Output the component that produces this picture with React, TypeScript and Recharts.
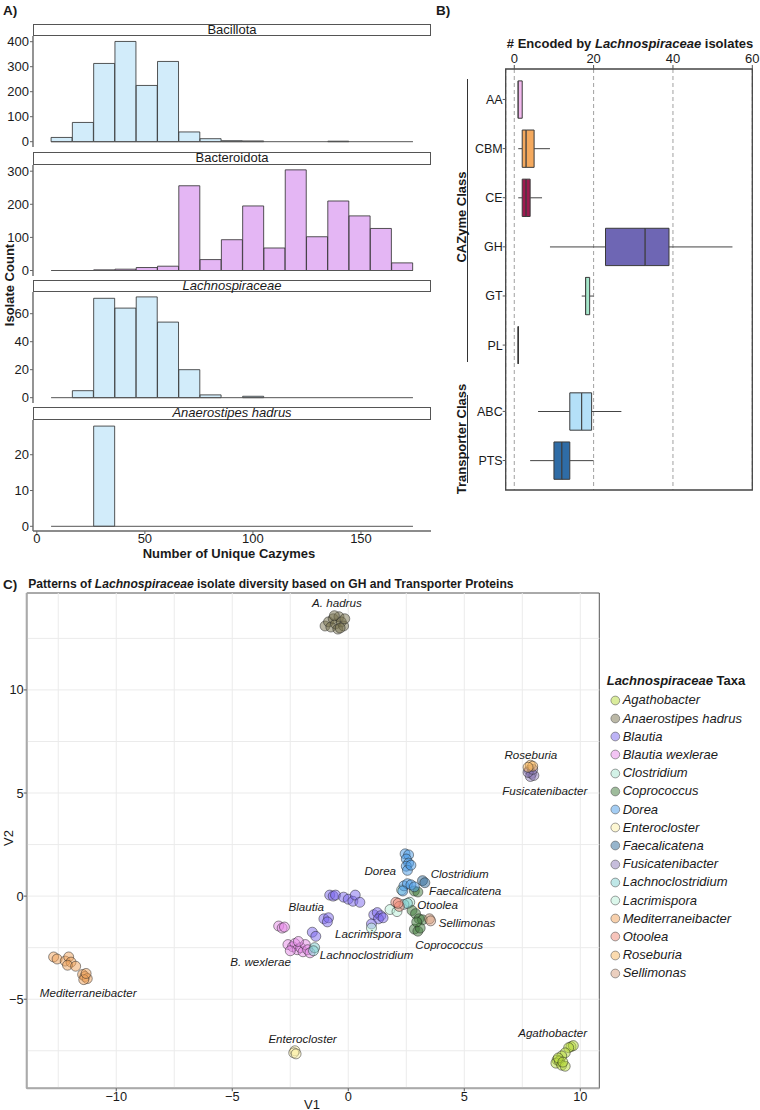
import React from 'react';
import {
  BarChart,
  Bar,
  XAxis,
  YAxis,
  ReferenceLine,
  ReferenceArea,
  ScatterChart,
  Scatter,
  CartesianGrid,
} from 'recharts';

const FONT = '"Liberation Sans", Arial, Helvetica, sans-serif';
const INK = '#1a1a1a';

// ---------------- Panel A: histograms ----------------
const binMids = [11.525, 21.375, 31.225, 41.075, 50.925, 60.775, 70.625, 80.475, 90.325, 100.175, 110.025, 119.875, 129.725, 139.575, 149.425, 159.275, 169.125];
const binRange = [6.6, 174.05];
const bacillotaCounts = [17, 77, 313, 401, 225, 321, 39, 12, 4, 3, 0, 0, 0, 2, 0, 0, 0];
const bacteroidotaCounts = [0, 0, 2, 4, 9, 13, 256, 33, 93, 195, 68, 304, 102, 210, 165, 127, 23];
const lachnoCounts = [0, 5, 71, 64, 72, 54, 20, 2, 0, 1, 0, 0, 0, 0, 0, 0, 0];
const hadrusCounts = [0, 0, 28, 0, 0, 0, 0, 0, 0, 0, 0, 0, 0, 0, 0, 0, 0];
const facetNames = ['Bacillota', 'Bacteroidota', 'Lachnospiraceae', 'Anaerostipes hadrus'];
const xTicksA = [0, 50, 100, 150];
const yTicksBacillota = [0, 100, 200, 300, 400];
const yTicksBacteroidota = [0, 100, 200, 300];
const yTicksLachno = [0, 20, 40, 60];
const yTicksHadrus = [0, 10, 20];

// ---------------- Panel B: box plots ----------------
const cazyClasses = ['AA', 'CBM', 'CE', 'GH', 'GT', 'PL', 'ABC', 'PTS'];
const classGroups = ['CAZyme', 'CAZyme', 'CAZyme', 'CAZyme', 'CAZyme', 'CAZyme', 'Transporter', 'Transporter'];
const whiskerLow = [1, 1, 1, 9, 17, 1, 6, 4];
const quart1 = [1, 2, 2, 23, 18, 1, 14, 10];
const medians = [1, 3, 3, 33, 18, 1, 17, 12];
const quart3 = [2, 5, 4, 39, 19, 1, 19.5, 14];
const whiskerHigh = [2, 9, 7, 55, 20, 1, 27, 20];
const boxColors = ['#F3B9EF', '#F4A95E', '#9E1A50', '#6E66B4', '#A6E8CC', '#FFFFFF', '#B4E0F8', '#2F6CA6'];
const xTicksB = [0, 20, 40, 60];

// ---------------- Panel C: ordination scatter ----------------
const taxaNames = ['Agathobacter', 'Anaerostipes hadrus', 'Blautia', 'Blautia wexlerae', 'Clostridium', 'Coprococcus', 'Dorea', 'Enterocloster', 'Faecalicatena', 'Fusicatenibacter', 'Lachnoclostridium', 'Lacrimispora', 'Mediterraneibacter', 'Otoolea', 'Roseburia', 'Sellimonas'];
const taxaColors = ['#B5D93A', '#77724D', '#7B68EE', '#E58AE8', '#A8E6CF', '#3F7A3A', '#4A9BE8', '#FCEFA8', '#2F6B99', '#8E7CB8', '#80CFCF', '#B8F0D8', '#F0A25A', '#F08A78', '#F7B860', '#D8A080'];

const agathobacterPts = [[9.6, -7.3], [9.7, -7.25], [9.5, -7.35], [9.35, -7.6], [9.2, -7.75], [9.0, -7.95], [8.95, -8.1], [9.1, -8.0], [9.2, -8.2], [9.35, -8.25], [9.05, -7.85], [9.25, -8.05]];
const hadrusPts = [[-1.0, 13.1], [-0.85, 13.3], [-0.75, 13.05], [-0.65, 13.45], [-0.55, 13.2], [-0.45, 12.95], [-0.4, 13.55], [-0.3, 13.3], [-0.2, 13.1], [-0.15, 13.45], [-0.6, 13.6], [-0.35, 13.0]];
const blautiaPts = [[-0.8, 0.05], [-0.65, 0.0], [-0.55, 0.05], [-0.2, -0.05], [0.0, -0.15], [0.2, -0.25], [0.3, 0.05], [0.5, -0.3], [-1.05, -1.1], [-0.85, -1.05], [-0.9, -1.25], [1.1, -0.9], [1.25, -0.8], [1.4, -0.95], [1.3, -1.1], [1.5, -1.05], [1.0, -1.35], [-1.55, -1.75], [-1.4, -1.95]];
const wexleraePts = [[-3.0, -1.45], [-2.85, -1.55], [-2.75, -1.5], [-2.6, -2.35], [-2.4, -2.45], [-2.3, -2.3], [-2.2, -2.6], [-2.05, -2.5], [-1.95, -2.7], [-1.85, -2.35], [-1.75, -2.6], [-2.5, -2.65], [-2.15, -2.2], [-1.65, -2.75]];
const clostridiumPts = [[2.3, 0.3], [2.65, -0.3]];
const coprococcusPts = [[2.85, 0.25], [3.0, 0.2], [2.75, -0.7], [2.9, -0.85], [3.05, -1.1], [3.2, -1.15], [2.85, -1.6], [3.0, -1.7], [3.1, -1.55], [2.95, -1.25]];
const doreaPts = [[2.45, 2.05], [2.6, 2.0], [2.5, 1.8], [2.6, 1.6], [2.5, 1.45], [2.55, 1.25], [2.7, 1.5], [2.4, 0.5], [2.55, 0.6], [2.7, 0.55], [2.85, 0.45], [2.35, 0.25]];
const enterclosterPts = [[-2.3, -7.5], [-2.35, -7.6], [-2.25, -7.65]];
const faecalicatenaPts = [[3.2, 0.75], [3.3, 0.65]];
const fusicatenibacterPts = [[7.8, 6.1], [7.9, 5.95], [7.85, 5.8], [8.0, 5.85], [7.75, 6.0], [7.95, 6.15]];
const lachnoclostridiumPts = [[-1.45, -2.5], [-1.5, -2.65], [2.4, -0.4], [2.55, -0.35]];
const lacrimisporaPts = [[1.8, -0.65], [1.0, -1.55], [2.1, -0.75]];
const mediterraneibacterPts = [[-12.7, -2.95], [-12.55, -3.05], [-12.2, -3.15], [-12.05, -2.95], [-11.95, -3.2], [-12.1, -3.35], [-11.75, -3.4], [-11.45, -3.8], [-11.35, -3.9], [-11.25, -4.0], [-11.4, -4.05], [-11.3, -3.75]];
const otooleaPts = [[2.05, -0.3], [2.2, -0.5], [2.15, -0.35]];
const roseburiaPts = [[7.85, 6.35], [7.95, 6.3], [7.75, 6.25]];
const sellimonasPts = [[3.5, -1.1], [3.55, -1.2]];
const taxaPoints = [agathobacterPts, hadrusPts, blautiaPts, wexleraePts, clostridiumPts, coprococcusPts, doreaPts, enterclosterPts, faecalicatenaPts, fusicatenibacterPts, lachnoclostridiumPts, lacrimisporaPts, mediterraneibacterPts, otooleaPts, roseburiaPts, sellimonasPts];

const labelTexts = ['A. hadrus', 'Roseburia', 'Fusicatenibacter', 'Agathobacter', 'Enterocloster', 'Mediterraneibacter', 'B. wexlerae', 'Blautia', 'Lacrimispora', 'Lachnoclostridium', 'Dorea', 'Clostridium', 'Faecalicatena', 'Otoolea', 'Sellimonas', 'Coprococcus'];
const labelX = [-0.49, 7.87, 8.47, 8.81, -1.97, -11.21, -3.78, -1.81, 0.86, 0.79, 1.38, 4.8, 5.04, 3.85, 5.12, 4.35];
const labelY = [14.24, 6.89, 5.14, -6.6, -6.92, -4.65, -3.19, -0.49, -1.81, -2.84, 1.25, 1.1, 0.28, -0.4, -1.29, -2.35];

const xTicksC = [-10, -5, 0, 5, 10];
const yTicksC = [-5, 0, 5, 10];
const gridXC = [-12.5, -10, -7.5, -5, -2.5, 0, 2.5, 5, 7.5, 10];
const gridYC = [-7.5, -5, -2.5, 0, 2.5, 5, 7.5, 10, 12.5];

const fmtMinus = (v: number) => (v < 0 ? '\u2212' + Math.abs(v) : String(v));

// ---------------- Panel A component ----------------
type FacetProps = {
  name: string;
  italic: boolean;
  counts: number[];
  color: string;
  stripTop: number;
  plotTop: number;
  plotBottom: number;
  yDomain: [number, number];
  yTicks: number[];
  showX: boolean;
};

const A_X_DOMAIN: [number, number] = [-1.77, 182.4];

function HistFacet(props: FacetProps) {
  const { name, italic, counts, color, stripTop, plotTop, plotBottom, yDomain, yTicks, showX } = props;
  const data = binMids.map((mid, i) => ({ mid, count: counts[i] }));
  const padTop = 8;
  const padBottom = showX ? 0 : 8;
  const xAxisH = showX ? 26 : 0;
  const h = plotBottom - plotTop + padTop + padBottom + xAxisH;
  return (
    <>
      <div style={{ position: 'absolute', left: 0, top: plotTop - padTop }}>
        <BarChart
          width={440}
          height={h}
          data={data}
          margin={{ top: padTop, right: 9, bottom: padBottom, left: 0 }}
          barCategoryGap={0}
          barGap={0}
        >
          <XAxis
            type="number"
            dataKey="mid"
            domain={A_X_DOMAIN}
            allowDataOverflow
            ticks={xTicksA}
            interval={0}
            hide={!showX}
            height={xAxisH}
            tickSize={3}
            tickMargin={0}
            axisLine={{ stroke: '#666', strokeWidth: 1.4 }}
            tickLine={{ stroke: '#666' }}
            tick={{ fontSize: 13, fill: INK, fontFamily: FONT }}
          />
          <YAxis
            type="number"
            domain={yDomain}
            allowDataOverflow
            ticks={yTicks}
            interval={0}
            width={33}
            tickSize={3}
            tickMargin={1}
            axisLine={{ stroke: '#666', strokeWidth: 1.4 }}
            tickLine={{ stroke: '#666' }}
            tick={{ fontSize: 13, fill: INK, fontFamily: FONT }}
          />
          <Bar dataKey="count" fill={color} stroke="#2b2b2b" strokeWidth={0.8} isAnimationActive={false} />
          <ReferenceLine
            segment={[
              { x: binRange[0], y: 0 },
              { x: binRange[1], y: 0 },
            ]}
            stroke="#555"
            strokeWidth={1}
          />
        </BarChart>
      </div>
      <div
        style={{
          position: 'absolute',
          left: 33,
          top: stripTop,
          width: 398,
          height: plotTop - stripTop,
          border: '1.2px solid #555',
          boxSizing: 'border-box',
          background: '#fff',
          fontFamily: FONT,
          fontStyle: italic ? 'italic' : 'normal',
          fontSize: 13,
          lineHeight: `${plotTop - stripTop - 2.4}px`,
          textAlign: 'center',
          color: INK,
          overflow: 'visible',
          whiteSpace: 'nowrap',
        }}
      >
        {name}
      </div>
    </>
  );
}

// ---------------- Panel B shapes ----------------
const hiddenShape = () => <g />;
const whiskerShape = (p: any) => {
  const { x, y, width, height } = p;
  if (!width) return <g />;
  return <line x1={x} x2={x + width} y1={y + height / 2} y2={y + height / 2} stroke="#444" strokeWidth={1} />;
};
const boxShape = (p: any) => {
  const { x, y, width, height } = p;
  const color = (p.payload && p.payload.color) || p.color;
  return (
    <path
      d={`M${x},${y}h${width}v${height}h${-width}Z`}
      fill={color}
      stroke="#3a3a3a"
      strokeWidth={1}
    />
  );
};

const B_X_DOMAIN: [number, number] = [-2.16, 60];
const B_Y_DOMAIN: [number, number] = [-0.62, 7.95];

function BoxPanel() {
  const rows = cazyClasses.map((name, i) => ({
    name,
    pos: i + (classGroups[i] === 'Transporter' ? 0.35 : 0),
    color: boxColors[i],
    base: whiskerLow[i],
    wLow: quart1[i] - whiskerLow[i],
    boxA: medians[i] - quart1[i],
    boxB: quart3[i] - medians[i],
    wHigh: whiskerHigh[i] - quart3[i],
  }));
  const plotH = 421;
  const unit = plotH / (B_Y_DOMAIN[1] - B_Y_DOMAIN[0]);
  const barSize = 0.76 * unit;
  const posTicks = rows.map((r) => r.pos);
  const nameOf = (v: number) => {
    const r = rows.find((row) => Math.abs(row.pos - v) < 1e-6);
    return r ? r.name : '';
  };
  return (
    <div style={{ position: 'absolute', left: 440, top: 40 }}>
      <BarChart
        width={320}
        height={452}
        data={rows}
        layout="vertical"
        margin={{ top: 0, right: 7.7, bottom: 2, left: 0 }}
      >
        <CartesianGrid horizontal={false} stroke="#a0a0a0" strokeDasharray="4 3" strokeWidth={1} />
        <XAxis
          type="number"
          orientation="top"
          domain={B_X_DOMAIN}
          allowDataOverflow
          ticks={xTicksB}
          interval={0}
          height={29}
          tickSize={4}
          tickMargin={2}
          axisLine={false}
          tickLine={{ stroke: '#555' }}
          tick={{ fontSize: 13, fill: INK, fontFamily: FONT }}
        />
        <YAxis
          type="number"
          dataKey="pos"
          domain={B_Y_DOMAIN}
          allowDataOverflow
          ticks={posTicks}
          interval={0}
          tickFormatter={nameOf}
          width={65.7}
          tickSize={3}
          tickMargin={0}
          axisLine={false}
          tickLine={{ stroke: '#555' }}
          tick={{ fontSize: 12.5, fill: INK, fontFamily: FONT }}
        />
        <Bar dataKey="base" stackId="b" barSize={barSize} shape={hiddenShape} isAnimationActive={false} />
        <Bar dataKey="wLow" stackId="b" barSize={barSize} shape={whiskerShape} isAnimationActive={false} />
        <Bar dataKey="boxA" stackId="b" barSize={barSize} shape={boxShape} isAnimationActive={false} />
        <Bar dataKey="boxB" stackId="b" barSize={barSize} shape={boxShape} isAnimationActive={false} />
        <Bar dataKey="wHigh" stackId="b" barSize={barSize} shape={whiskerShape} isAnimationActive={false} />
        <ReferenceArea
          x1={B_X_DOMAIN[0]}
          x2={B_X_DOMAIN[1]}
          y1={B_Y_DOMAIN[0]}
          y2={B_Y_DOMAIN[1]}
          fill="none"
          fillOpacity={0}
          stroke="#444"
          strokeWidth={1.3}
          ifOverflow="visible"
        />
      </BarChart>
    </div>
  );
}

// ---------------- Panel C ----------------
const C_X_DOMAIN: [number, number] = [-13.86, 10.82];
const C_Y_DOMAIN: [number, number] = [-9.32, 14.7];

const makeDot = (color: string) => (p: any) => (
  <circle cx={p.cx} cy={p.cy} r={5} fill={color} fillOpacity={0.5} stroke="#222" strokeOpacity={0.7} strokeWidth={0.7} />
);
const labelShape = (p: any) => (
  <text
    x={p.cx}
    y={p.cy}
    textAnchor="middle"
    dominantBaseline="central"
    fontStyle="italic"
    fontSize={11.6}
    fill={INK}
    fontFamily={FONT}
  >
    {p.payload.label}
  </text>
);

function ScatterPanel() {
  const labelData = labelTexts.map((label, i) => ({ x: labelX[i], y: labelY[i], label }));
  return (
    <div style={{ position: 'absolute', left: 0, top: 585 }}>
      <ScatterChart width={610} height={525} margin={{ top: 8, right: 10.7, bottom: 0, left: 0 }}>
        <XAxis
          type="number"
          dataKey="x"
          domain={C_X_DOMAIN}
          allowDataOverflow
          ticks={xTicksC}
          interval={0}
          tickFormatter={fmtMinus}
          height={21.7}
          tickSize={3}
          tickMargin={1}
          axisLine={{ stroke: '#aaa', strokeWidth: 2 }}
          tickLine={{ stroke: '#555' }}
          tick={{ fontSize: 12.8, fill: INK, fontFamily: FONT }}
        />
        <YAxis
          type="number"
          dataKey="y"
          domain={C_Y_DOMAIN}
          allowDataOverflow
          ticks={yTicksC}
          interval={0}
          tickFormatter={fmtMinus}
          width={26.7}
          tickSize={3}
          tickMargin={0}
          axisLine={{ stroke: '#aaa', strokeWidth: 2 }}
          tickLine={{ stroke: '#555' }}
          tick={{ fontSize: 12.8, fill: INK, fontFamily: FONT }}
        />
        {gridXC.map((v) => (
          <ReferenceLine key={'gx' + v} x={v} stroke="#ebebeb" strokeWidth={1} />
        ))}
        {gridYC.map((v) => (
          <ReferenceLine key={'gy' + v} y={v} stroke="#ebebeb" strokeWidth={1} />
        ))}
        <ReferenceArea
          x1={C_X_DOMAIN[0]}
          x2={C_X_DOMAIN[1]}
          y1={C_Y_DOMAIN[0]}
          y2={C_Y_DOMAIN[1]}
          fill="none"
          fillOpacity={0}
          stroke="#555"
          strokeWidth={1}
          ifOverflow="visible"
        />
        {taxaPoints.map((pts, i) => (
          <Scatter
            key={taxaNames[i]}
            name={taxaNames[i]}
            data={pts.map(([x, y]) => ({ x, y }))}
            shape={makeDot(taxaColors[i])}
            isAnimationActive={false}
          />
        ))}
        <Scatter name="labels" data={labelData} shape={labelShape} isAnimationActive={false} />
      </ScatterChart>
    </div>
  );
}

function Legend() {
  return (
    <div style={{ position: 'absolute', left: 606.7, top: 672, fontFamily: FONT, color: INK }}>
      <div style={{ fontSize: 13, fontWeight: 'bold', height: 18, lineHeight: '18px', whiteSpace: 'nowrap' }}>
        <i>Lachnospiraceae</i> Taxa
      </div>
      {taxaNames.map((n, i) => (
        <div key={n} style={{ position: 'absolute', left: 0, top: 18.8 + i * 18.2, height: 18.2, display: 'flex', alignItems: 'center', whiteSpace: 'nowrap' }}>
          <svg width={16} height={12} style={{ display: 'block' }}>
            <circle cx={8.3} cy={6.5} r={4.4} fill={taxaColors[i]} fillOpacity={0.5} stroke="#555" strokeWidth={0.7} strokeOpacity={0.8} />
          </svg>
          <span style={{ fontSize: 13, fontStyle: 'italic', marginLeft: 0 }}>{n}</span>
        </div>
      ))}
    </div>
  );
}

const txt = (s: React.CSSProperties): React.CSSProperties => ({
  position: 'absolute',
  fontFamily: FONT,
  color: INK,
  whiteSpace: 'nowrap',
  ...s,
});

export default function App() {
  return (
    <div style={{ position: 'absolute', left: 0, top: 0, width: 760, height: 1110, background: '#fff', overflow: 'hidden', fontFamily: FONT }}>
      {/* Panel labels */}
      <div style={txt({ left: 3, top: 3, fontSize: 13.5, fontWeight: 'bold' })}>A)</div>
      <div style={txt({ left: 436, top: 3, fontSize: 13.5, fontWeight: 'bold' })}>B)</div>
      <div style={txt({ left: 3, top: 577, fontSize: 13.5, fontWeight: 'bold' })}>C)</div>

      {/* Panel A */}
      <HistFacet name={facetNames[0]} italic={false} counts={bacillotaCounts} color="#D2ECFA" stripTop={23.5} plotTop={36} plotBottom={147} yDomain={[-21.2, 422.8]} yTicks={yTicksBacillota} showX={false} />
      <HistFacet name={facetNames[1]} italic={false} counts={bacteroidotaCounts} color="#E4B6F4" stripTop={152} plotTop={164.5} plotBottom={275.5} yDomain={[-16.6, 318.7]} yTicks={yTicksBacteroidota} showX={false} />
      <HistFacet name={facetNames[2]} italic counts={lachnoCounts} color="#D2ECFA" stripTop={279.5} plotTop={292} plotBottom={403} yDomain={[-3.8, 75.5]} yTicks={yTicksLachno} showX={false} />
      <HistFacet name={facetNames[3]} italic counts={hadrusCounts} color="#D2ECFA" stripTop={407} plotTop={419.7} plotBottom={530.7} yDomain={[-1.31, 29.7]} yTicks={yTicksHadrus} showX />
      <div style={txt({ left: 229, top: 552.5, transform: 'translate(-50%, -50%)', fontSize: 13, fontWeight: 'bold' })}>Number of Unique Cazymes</div>
      <div style={txt({ left: 8.5, top: 285, transform: 'translate(-50%, -50%) rotate(-90deg)', fontSize: 13, fontWeight: 'bold' })}>Isolate Count</div>

      {/* Panel B */}
      <div style={txt({ left: 630, top: 43, transform: 'translate(-50%, -50%)', fontSize: 13, fontWeight: 'bold' })}>
        # Encoded by <i>Lachnospiraceae</i> isolates
      </div>
      <BoxPanel />
      <div style={{ position: 'absolute', left: 467, top: 79, width: 1, height: 283, background: '#333' }} />
      <div style={{ position: 'absolute', left: 467, top: 395, width: 1, height: 88, background: '#333' }} />
      <div style={txt({ left: 460.5, top: 217, transform: 'translate(-50%, -50%) rotate(-90deg)', fontSize: 13, fontWeight: 'bold' })}>CAZyme Class</div>
      <div style={txt({ left: 460.5, top: 439, transform: 'translate(-50%, -50%) rotate(-90deg)', fontSize: 13, fontWeight: 'bold' })}>Transporter Class</div>

      {/* Panel C */}
      <ScatterPanel />
      <div style={txt({ left: 28.3, top: 577, fontSize: 12.1, fontWeight: 'bold' })}>
        Patterns of <i>Lachnospiraceae</i> isolate diversity based on GH and Transporter Proteins
      </div>
      <div style={txt({ left: 312, top: 1104, transform: 'translate(-50%, -50%)', fontSize: 13 })}>V1</div>
      <div style={txt({ left: 8, top: 838, transform: 'translate(-50%, -50%) rotate(-90deg)', fontSize: 13 })}>V2</div>
      <Legend />
    </div>
  );
}
